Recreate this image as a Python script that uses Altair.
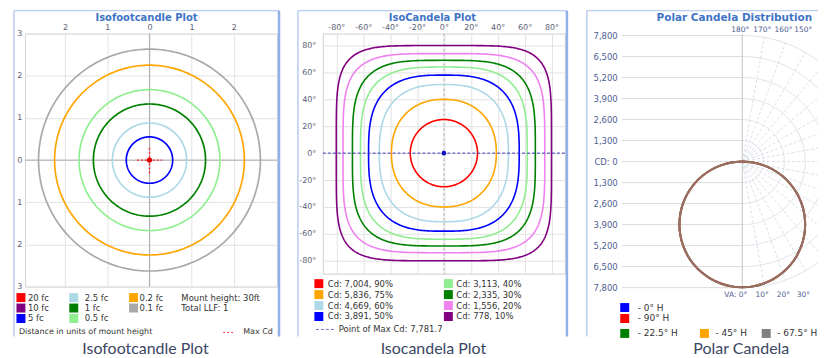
import numpy as np
import pandas as pd
import altair as alt

# ---------------- Panel 1 : Isofootcandle plot ----------------
fc_labels = ["20 fc", "10 fc", "5 fc", "2.5 fc", "1 fc", "0.5 fc", "0.2 fc", "0.1 fc"]
fc_colors = ["#ff0000", "#800080", "#0000ff", "#add8e6", "#008000", "#90ee90", "#ffa500", "#a9a9a9"]
fc_radius = [None, None, 0.55, 0.88, 1.33, 1.67, 2.25, 2.63]   # mount heights
fc_ticks_x = [-2, -1, 0, 1, 2]
fc_ticks_y = [-3, -2, -1, 0, 1, 2, 3]
fc_notes = ["Mount height: 30ft", "Total LLF: 1"]

# ---------------- Panel 2 : IsoCandela plot ----------------
max_cd = 7781.7
cd_pct = [90, 75, 60, 50, 40, 30, 20, 10]
cd_values = [7004, 5836, 4669, 3891, 3113, 2335, 1556, 778]
cd_colors = ["#ff0000", "#ffa500", "#add8e6", "#0000ff", "#90ee90", "#008000", "#ee82ee", "#800080"]
cd_half_w = [25, 39, 48, 56, 62, 68, 75, 80]      # degrees
cd_half_h = [25, 40, 51, 58, 64, 69, 74, 80]      # degrees
cd_square = [2.0, 2.2, 2.6, 2.9, 3.3, 3.7, 4.3, 5.2]
iso_ticks = [-80, -60, -40, -20, 0, 20, 40, 60, 80]

# ---------------- Panel 3 : Polar candela ----------------
va_angles = [0, 5, 10, 15, 20, 25, 30, 35, 40, 45, 50, 55, 60, 65, 70, 75, 80, 85, 90]
candela = [7782, 7752, 7664, 7517, 7312, 7053, 6739, 6374, 5961, 5503,
           5002, 4463, 3891, 3289, 2661, 2014, 1351, 678, 0]
h_planes = ["- 0° H", "- 90° H", "- 22.5° H", "- 45° H", "- 67.5° H"]
h_colors = ["#0000ff", "#ff0000", "#008000", "#ffa500", "#808080"]
draw_order = ["- 0° H", "- 22.5° H", "- 45° H", "- 90° H", "- 67.5° H"]
cd_rings = [1300, 2600, 3900, 5200, 6500, 7800]
top_angles = [180, 170, 160, 150]
bottom_angles = [0, 10, 20, 30]

# ---------------- helpers ----------------
one = pd.DataFrame({"k": [0]})
FONT = "DejaVu Sans"
TITLE_BLUE = "#3f74c6"
CAPTION = "#3b4763"
FRAME = "#b8ccee"
FRAME_R = "#93b1e6"


def text_at(s, x, y, size=8.5, color="#333333", align="left", weight="normal", font=FONT):
    return alt.Chart(one).mark_text(text=s, align=align, baseline="middle", fontSize=size,
                                    color=color, fontWeight=weight, font=font).encode(
        x=alt.value(x), y=alt.value(y))


def frame(left, right, top, bottom, right_edge=True):
    layers = [
        alt.Chart(one).mark_rule(color=FRAME, strokeWidth=1.5).encode(
            x=alt.value(left), y=alt.value(top), y2=alt.value(bottom)),
        alt.Chart(one).mark_rule(color=FRAME, strokeWidth=1.2).encode(
            x=alt.value(left), x2=alt.value(right), y=alt.value(top)),
    ]
    if right_edge:
        layers.append(alt.Chart(one).mark_rule(color=FRAME_R, strokeWidth=2.5).encode(
            x=alt.value(right), y=alt.value(top), y2=alt.value(bottom)))
    return layers


def legend_layers(labels, colors, sx, tx, sy, size=81, fsize=8.5, fcolor="#333333"):
    df = pd.DataFrame({"label": labels, "sx": sx, "tx": tx, "sy": sy})
    sc = alt.Scale(domain=labels, range=colors)
    sq = alt.Chart(df).mark_square(size=size, opacity=1).encode(
        x=alt.X("sx:Q", scale=None), y=alt.Y("sy:Q", scale=None),
        color=alt.Color("label:N", scale=sc, legend=None))
    tt = alt.Chart(df).mark_text(align="left", baseline="middle", fontSize=fsize,
                                 font=FONT, color=fcolor).encode(
        x=alt.X("tx:Q", scale=None), y=alt.Y("sy:Q", scale=None), text="label:N")
    return [sq, tt]


axis_common = dict(title=None, domain=False, ticks=False, grid=True, gridColor="#e2e2e2",
                   gridWidth=1, labelFont=FONT, labelFontSize=8, labelFlush=False,
                   labelColor="#5a6175")

# ================= Panel 1 =================
W1, H1 = 253, 254
sx1 = alt.Scale(domain=[-2.953, 3.024], nice=False, zero=False)
sy1 = alt.Scale(domain=[-3, 3], nice=False, zero=False)
ax1x = alt.Axis(orient="top", values=fc_ticks_x, labelExpr="'' + abs(datum.value)",
                labelPadding=2, **axis_common)
ax1y = alt.Axis(orient="left", values=fc_ticks_y, labelExpr="'' + abs(datum.value)",
                labelPadding=3, **axis_common)


def X1(f):
    return alt.X(f, scale=sx1, axis=ax1x)


def Y1(f):
    return alt.Y(f, scale=sy1, axis=ax1y)


ang = np.linspace(0, 2 * np.pi, 241)
rows = []
for lab, r in zip(fc_labels, fc_radius):
    if r is None:
        continue
    for j, a in enumerate(ang):
        rows.append({"label": lab, "x": r * np.cos(a), "y": r * np.sin(a), "o": j})
circ = pd.DataFrame(rows)
fc_scale = alt.Scale(domain=fc_labels, range=fc_colors)

p1_zero = alt.Chart(pd.DataFrame({"v": [0]}))
p1_layers = [
    p1_zero.mark_rule(color="#9c9c9c", strokeWidth=0.8).encode(x=X1("v:Q")),
    p1_zero.mark_rule(color="#9c9c9c", strokeWidth=0.8).encode(y=Y1("v:Q")),
    alt.Chart(circ).mark_line(strokeWidth=1.7).encode(
        x=X1("x:Q"), y=Y1("y:Q"), order="o:Q",
        color=alt.Color("label:N", scale=fc_scale, legend=None)),
    alt.Chart(pd.DataFrame({"x": [-0.3, 0.0], "x2": [0.3, 0.0], "y": [0.0, -0.32], "y2": [0.0, 0.32]}))
    .mark_rule(color="#ff2020", strokeWidth=1.3, strokeDash=[2, 2]).encode(
        x=X1("x:Q"), x2="x2:Q", y=Y1("y:Q"), y2="y2:Q"),
    alt.Chart(pd.DataFrame({"x": [0.0], "y": [0.0]})).mark_point(
        filled=True, color="#e00000", size=28, opacity=1).encode(x=X1("x:Q"), y=Y1("y:Q")),
]
p1_layers += frame(-11, 255, -23, 304)
p1_layers.append(text_at("Isofootcandle Plot", 122, -16, size=10, color=TITLE_BLUE,
                         align="center", weight="bold"))
cols1_s = [-4, 49, 109]
cols1_t = [3, 60, 115]
p1_layers += legend_layers(fc_labels, fc_colors,
                           [cols1_s[i // 3] for i in range(8)],
                           [cols1_t[i // 3] for i in range(8)],
                           [265 + (i % 3) * 10.5 for i in range(8)])
p1_layers.append(text_at(fc_notes[0], 157, 265))
p1_layers.append(text_at(fc_notes[1], 157, 275.5))
p1_layers.append(text_at("Distance in units of mount height", -6, 300, size=8))
p1_layers.append(alt.Chart(one).mark_rule(color="#ff3030", strokeDash=[2, 2], strokeWidth=1).encode(
    x=alt.value(199), x2=alt.value(211), y=alt.value(300)))
p1_layers.append(text_at("Max Cd", 219, 300, size=8))
p1_layers.append(text_at("Isofootcandle Plot", 121, 317, size=16, color=CAPTION,
                         align="center", font="Lato"))
p1 = alt.layer(*p1_layers).properties(width=W1, height=H1,
                                        view=alt.ViewBackground(stroke="#d4d4d4"))

# ================= Panel 2 =================
W2, H2 = 243, 241
sx2 = alt.Scale(domain=[-90, 90], nice=False, zero=False)
sy2 = alt.Scale(domain=[-89.6, 88.9], nice=False, zero=False)
ax2x = alt.Axis(orient="top", values=iso_ticks, labelExpr="datum.value + '°'",
                labelPadding=2, **axis_common)
ax2y = alt.Axis(orient="left", values=iso_ticks, labelExpr="datum.value + '°'",
                labelPadding=7, **axis_common)


def X2(f):
    return alt.X(f, scale=sx2, axis=ax2x)


def Y2(f):
    return alt.Y(f, scale=sy2, axis=ax2y)


t = np.linspace(0, 2 * np.pi, 361)
rows = []
for lab_i, (a, b, n) in enumerate(zip(cd_half_w, cd_half_h, cd_square)):
    lab = f"Cd: {cd_values[lab_i]:,}, {cd_pct[lab_i]}%"
    c, s = np.cos(t), np.sin(t)
    xs = a * np.sign(c) * np.abs(c) ** (2.0 / n)
    ys = b * np.sign(s) * np.abs(s) ** (2.0 / n)
    for j in range(len(t)):
        rows.append({"label": lab, "x": xs[j], "y": ys[j], "o": j})
cont = pd.DataFrame(rows)
cd_labels = [f"Cd: {v:,}, {p}%" for v, p in zip(cd_values, cd_pct)]
cd_scale = alt.Scale(domain=cd_labels, range=cd_colors)

z2 = alt.Chart(pd.DataFrame({"v": [0]}))
p2_layers = [
    z2.mark_rule(color="#a0a0a0", strokeWidth=0.8, strokeDash=[3, 2]).encode(x=X2("v:Q")),
    alt.Chart(cont).mark_line(strokeWidth=1.6).encode(
        x=X2("x:Q"), y=Y2("y:Q"), order="o:Q",
        color=alt.Color("label:N", scale=cd_scale, legend=None)),
    z2.mark_rule(color="#3a3ab8", strokeWidth=1, strokeDash=[3, 2]).encode(y=Y2("v:Q")),
    alt.Chart(pd.DataFrame({"x": [0.0], "y": [0.0]})).mark_point(
        filled=True, color="#1010c0", size=22, opacity=1).encode(x=X2("x:Q"), y=Y2("y:Q")),
]
p2_layers += frame(-25, 245, -23, 304)
p2_layers.append(text_at("IsoCandela Plot", 110, -16, size=10, color=TITLE_BLUE,
                         align="center", weight="bold"))
p2_layers += legend_layers(cd_labels, cd_colors,
                           [[-4, 126][i // 4] for i in range(8)],
                           [[5, 134][i // 4] for i in range(8)],
                           [251 + (i % 4) * 11 for i in range(8)])
p2_layers.append(alt.Chart(one).mark_rule(color="#7070d0", strokeDash=[3, 2], strokeWidth=1).encode(
    x=alt.value(-7), x2=alt.value(11), y=alt.value(297)))
p2_layers.append(text_at(f"Point of Max Cd: {max_cd:,.1f}", 16, 297))
p2_layers.append(text_at("Isocandela Plot", 111, 317, size=16, color=CAPTION,
                         align="center", font="Lato"))
p2 = alt.layer(*p2_layers).properties(width=W2, height=H2,
                                        view=alt.ViewBackground(stroke="#cfcfcf"))

# ================= Panel 3 =================
W3, H3 = 208, 255
sx3 = alt.Scale(domain=[-8139, 4686], nice=False, zero=False)
sy3 = alt.Scale(domain=[-7800, 7923], nice=False, zero=False)


def X3(f):
    return alt.X(f, scale=sx3, axis=None)


def Y3(f):
    return alt.Y(f, scale=sy3, axis=None)


lv = [-r for r in cd_rings[::-1]] + [0] + cd_rings
hgrid = pd.DataFrame({"y": lv, "x": [-7461] * len(lv), "x2": [0] * len(lv)})
ylab = pd.DataFrame({"y": lv, "t": ["CD: 0" if v == 0 else f"{abs(v):,}" for v in lv]})
aa = np.linspace(0, np.pi, 181)
rows = []
for r in cd_rings:
    for j, a in enumerate(aa):
        rows.append({"r": r, "x": r * np.sin(a), "y": -r * np.cos(a), "o": j})
rings = pd.DataFrame(rows)
rad_a = np.deg2rad(np.arange(10, 180, 10))
radial = pd.DataFrame({"x": 0.0, "y": 0.0, "x2": 7800 * np.sin(rad_a), "y2": -7800 * np.cos(rad_a)})
toplab = pd.DataFrame({"x": [7800 * np.sin(np.deg2rad(180 - a)) for a in top_angles],
                       "t": [f"{a}°" for a in top_angles]})
botlab = pd.DataFrame({"x": [7800 * np.sin(np.deg2rad(a)) for a in bottom_angles[1:]],
                       "t": [f"{a}°" for a in bottom_angles[1:]]})
seq_a = [-a for a in va_angles[::-1]] + va_angles[1:]
seq_c = candela[::-1] + candela[1:]
h_scale = alt.Scale(domain=h_planes, range=h_colors)

p3_layers = [
    alt.Chart(hgrid).mark_rule(color="#dcdcdc", strokeWidth=1).encode(
        x=X3("x:Q"), x2="x2:Q", y=Y3("y:Q")),
    alt.Chart(rings).mark_line(color="#dde1e8", strokeWidth=1, clip=True).encode(
        x=X3("x:Q"), y=Y3("y:Q"), detail="r:N", order="o:Q"),
    alt.Chart(radial).mark_rule(color="#d6dbe4", strokeWidth=0.9, strokeDash=[3, 2], clip=True).encode(
        x=X3("x:Q"), x2="x2:Q", y=Y3("y:Q"), y2="y2:Q"),
    alt.Chart(pd.DataFrame({"v": [0]})).mark_rule(color="#c4c4c4", strokeWidth=1).encode(x=X3("v:Q")),
]
for idx, plane in enumerate(draw_order):
    dfp = pd.DataFrame({
        "plane": plane,
        "x": [c * np.sin(np.deg2rad(a)) for a, c in zip(seq_a, seq_c)],
        "y": [-c * np.cos(np.deg2rad(a)) for a, c in zip(seq_a, seq_c)],
        "o": list(range(len(seq_a))),
    })
    op = 0.75 if idx == len(draw_order) - 1 else 0.6
    p3_layers.append(alt.Chart(dfp).mark_line(strokeWidth=2, opacity=op, interpolate="cardinal").encode(
        x=X3("x:Q"), y=Y3("y:Q"), order="o:Q",
        color=alt.Color("plane:N", scale=h_scale, legend=None)))
p3_layers += [
    alt.Chart(ylab).mark_text(align="right", baseline="middle", fontSize=8.5, font=FONT,
                              color="#4d5d92").encode(x=alt.value(7), y=Y3("y:Q"), text="t:N"),
    alt.Chart(toplab).mark_text(align="center", baseline="middle", fontSize=7.5, font=FONT,
                                color="#4d5d92", dx=-2).encode(x=X3("x:Q"), y=alt.value(-4), text="t:N"),
    alt.Chart(botlab).mark_text(align="center", baseline="middle", fontSize=7.5, font=FONT,
                                color="#4d5d92", dx=-2).encode(x=X3("x:Q"), y=alt.value(262), text="t:N"),
    alt.Chart(pd.DataFrame({"x": [0.0], "t": [f"VA: {bottom_angles[0]}°"]})).mark_text(
        align="right", baseline="middle", fontSize=7.5, font=FONT, color="#4d5d92", dx=5).encode(
        x=X3("x:Q"), y=alt.value(262), text="t:N"),
]
p3_layers += frame(-24, 208, -23, 304, right_edge=False)
p3_layers.append(text_at("Polar Candela Distribution", 46, -16, size=10.5, color=TITLE_BLUE,
                         weight="bold"))
p3_layers += legend_layers(h_planes, h_colors,
                           [14, 14, 14, 94, 156], [27, 27, 27, 105, 167],
                           [275, 286, 301, 301, 301], size=81, fsize=9)
p3_layers.append(text_at("Polar Candela", 131, 317, size=16, color=CAPTION,
                         align="center", font="Lato"))
p3 = alt.layer(*p3_layers).properties(width=W3, height=H3,
                                        view=alt.ViewBackground(stroke=None))

chart = alt.hconcat(p1, p2, p3, spacing=46, bounds="flush").resolve_scale(
    color="independent").properties(
    padding={"left": 4, "top": 0, "right": 0, "bottom": 0}
).configure_view(strokeWidth=1)

chart.save("out.html", embed_options={"renderer": "svg", "actions": False})
